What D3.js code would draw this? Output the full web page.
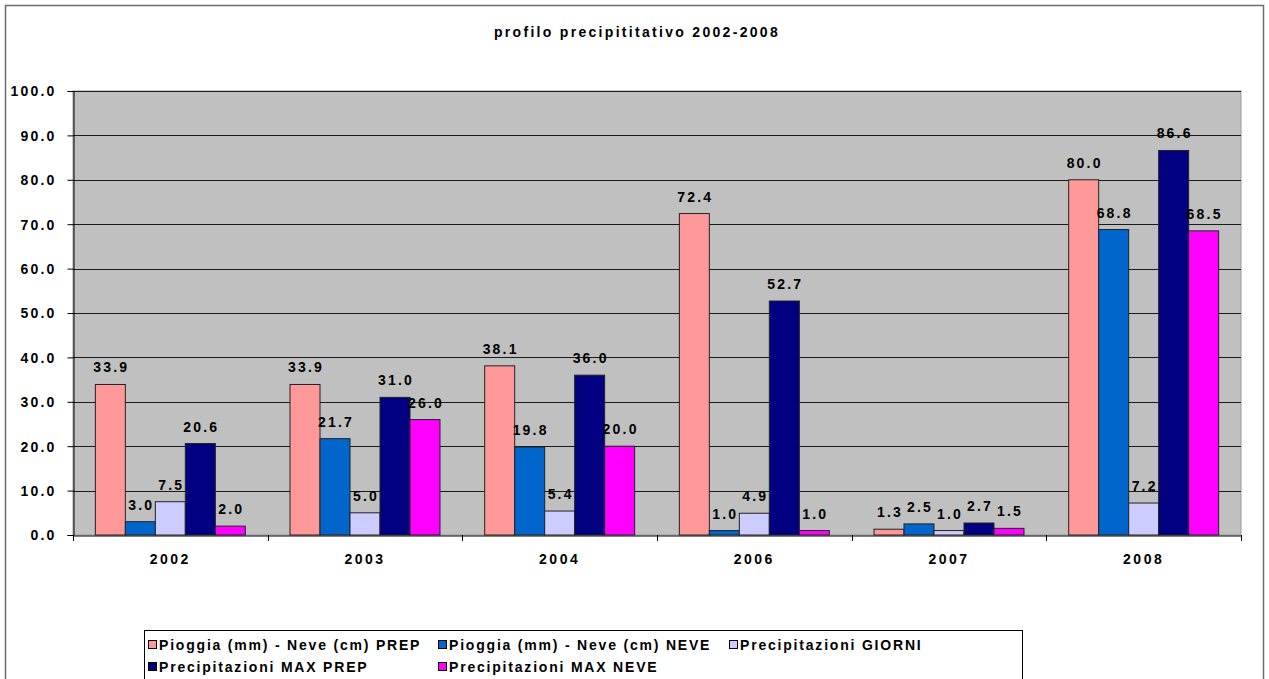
<!DOCTYPE html>
<html>
<head>
<meta charset="utf-8">
<script src="https://cdn.jsdelivr.net/npm/d3@7/dist/d3.min.js"></script>
<style>
  html, body { margin: 0; padding: 0; background: #fff; }
  svg text { font-family: "Liberation Sans", Arial, sans-serif; font-weight: bold; fill: #000; }
</style>
</head>
<body>
<svg id="chart" width="1269" height="679"></svg>
<script>
// data
const years = ["2002", "2003", "2004", "2006", "2007", "2008"];
const seriesNames = [
  "Pioggia (mm) - Neve (cm) PREP",
  "Pioggia (mm) - Neve (cm) NEVE",
  "Precipitazioni GIORNI",
  "Precipitazioni MAX PREP",
  "Precipitazioni MAX NEVE"
];
const prep = [33.9, 33.9, 38.1, 72.4, 1.3, 80.0];
const neve = [3.0, 21.7, 19.8, 1.0, 2.5, 68.8];
const giorni = [7.5, 5.0, 5.4, 4.9, 1.0, 7.2];
const maxPrep = [20.6, 31.0, 36.0, 52.7, 2.7, 86.6];
const maxNeve = [2.0, 26.0, 20.0, 1.0, 1.5, 68.5];
const colors = ["#FF9999", "#0066CC", "#CCCCFF", "#000080", "#FF00FF"];
const yTicks = [0, 10, 20, 30, 40, 50, 60, 70, 80, 90, 100];

const allSeries = [prep, neve, giorni, maxPrep, maxNeve];

const svg = d3.select("#chart");

// outer frame
svg.append("rect")
  .attr("x", 5.5).attr("y", 5.5)
  .attr("width", 1258).attr("height", 700)
  .attr("fill", "#fff")
  .attr("stroke", "#6e6e6e")
  .attr("stroke-width", 1.5);

const plot = {left: 73, right: 1241, top: 91, bottom: 535};

const x0 = d3.scaleBand()
  .domain(years)
  .range([plot.left, plot.right]);

const x1 = d3.scaleBand()
  .domain(seriesNames)
  .range([0, x0.bandwidth()])
  .paddingOuter(0.745);

const y = d3.scaleLinear()
  .domain([0, 100])
  .range([plot.bottom, plot.top]);

// plot background
svg.append("rect")
  .attr("x", plot.left).attr("y", plot.top)
  .attr("width", plot.right - plot.left).attr("height", plot.bottom - plot.top)
  .attr("fill", "#C0C0C0")
  .attr("stroke", "#9a9a9a");

// gridlines
svg.append("g")
  .selectAll("line")
  .data(yTicks.filter(d => d > 0))
  .join("line")
  .attr("x1", plot.left).attr("x2", plot.right)
  .attr("y1", d => Math.round(y(d)) + 0.5).attr("y2", d => Math.round(y(d)) + 0.5)
  .attr("stroke", "#1a1a1a");

// y axis
const yAxis = svg.append("g")
  .attr("transform", `translate(${plot.left + 0.5},0)`)
  .call(d3.axisLeft(y).tickValues(yTicks).tickSize(6).tickPadding(11).tickFormat(d3.format(".1f")));
yAxis.select(".domain").attr("stroke", "#000");
yAxis.selectAll(".tick line").attr("stroke", "#000");
yAxis.selectAll("text")
  .attr("font-size", 14)
  .attr("letter-spacing", 2.2)
  .attr("dy", "0.35em")
  .style("font-family", "'Liberation Sans', Arial, sans-serif")
  .style("font-weight", "bold");

// x axis
const xAxis = svg.append("g")
  .attr("transform", `translate(0,${plot.bottom + 0.5})`)
  .call(d3.axisBottom(x0).tickSize(0).tickPadding(19));
xAxis.select(".domain").attr("stroke", "#000");
xAxis.selectAll("text")
  .attr("font-size", 14)
  .attr("letter-spacing", 2.5)
  .style("font-family", "'Liberation Sans', Arial, sans-serif")
  .style("font-weight", "bold");
// category separator ticks
svg.append("g")
  .selectAll("line")
  .data(years.concat(["end"]))
  .join("line")
  .attr("x1", (d, i) => Math.round(plot.left + i * x0.step()) + 0.5)
  .attr("x2", (d, i) => Math.round(plot.left + i * x0.step()) + 0.5)
  .attr("y1", plot.bottom).attr("y2", plot.bottom + 6)
  .attr("stroke", "#000");

// bars
const groups = svg.append("g")
  .selectAll("g")
  .data(years)
  .join("g")
  .attr("transform", d => `translate(${x0(d)},0)`);

groups.selectAll("rect")
  .data((d, i) => seriesNames.map((s, j) => ({s, v: allSeries[j][i], c: colors[j]})))
  .join("rect")
  .attr("x", d => x1(d.s))
  .attr("y", d => y(d.v))
  .attr("width", x1.bandwidth())
  .attr("height", d => y(0) - y(d.v))
  .attr("fill", d => d.c)
  .attr("stroke", "#222")
  .attr("stroke-width", 1);

groups.selectAll("text")
  .data((d, i) => seriesNames.map((s, j) => ({s, v: allSeries[j][i]})))
  .join("text")
  .attr("x", d => x1(d.s) + x1.bandwidth() / 2 + 1)
  .attr("y", d => y(d.v) - 12)
  .attr("text-anchor", "middle")
  .attr("font-size", 14)
  .attr("letter-spacing", 2.2)
  .text(d => d3.format(".1f")(d.v));

// title
svg.append("text")
  .attr("x", 637).attr("y", 37)
  .attr("text-anchor", "middle")
  .attr("font-size", 14)
  .attr("letter-spacing", 2.3)
  .text("profilo precipititativo 2002-2008");

// legend
const legend = svg.append("g");
legend.append("rect")
  .attr("x", 144.5).attr("y", 630.5)
  .attr("width", 878).attr("height", 60)
  .attr("fill", "#fff")
  .attr("stroke", "#000");

const legendPos = [
  {x: 148, y: 645}, {x: 438, y: 645}, {x: 729, y: 645},
  {x: 148, y: 667}, {x: 438, y: 667}
];
const items = legend.selectAll("g.item")
  .data(seriesNames)
  .join("g")
  .attr("class", "item")
  .attr("transform", (d, i) => `translate(${legendPos[i].x},${legendPos[i].y})`);
items.append("rect")
  .attr("x", 0.5).attr("y", -4.5)
  .attr("width", 8).attr("height", 8)
  .attr("fill", (d, i) => colors[i])
  .attr("stroke", "#000");
items.append("text")
  .attr("x", 11)
  .attr("y", 5)
  .attr("font-size", 14)
  .attr("letter-spacing", 1.8)
  .text(d => d);
</script>
</body>
</html>
